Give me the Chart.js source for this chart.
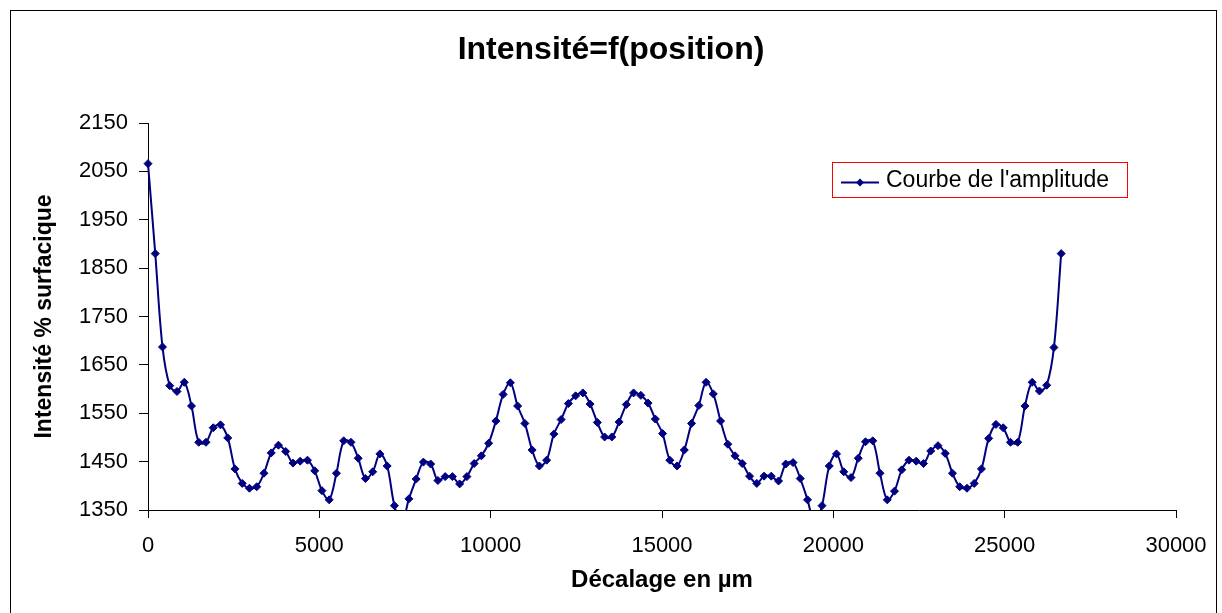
<!DOCTYPE html>
<html lang="fr">
<head>
<meta charset="utf-8">
<title>Intensité=f(position)</title>
<script src="https://cdn.jsdelivr.net/npm/chart.js@4.4.1/dist/chart.umd.min.js"></script>
<style>
    html, body { margin: 0; padding: 0; background: #fff; }
    #wrap { width: 1222px; height: 613px; position: relative; }
</style>
</head>
<body>
<div id="wrap"><canvas id="chart" width="1222" height="613"></canvas></div>
<script>
/* Décalage (µm) of each measurement */
const positions = [
    0, 212, 423, 635, 846, 1058, 1269, 1481, 1692, 1904,
    2115, 2327, 2538, 2750, 2961, 3173, 3384, 3596, 3807, 4019,
    4230, 4442, 4653, 4865, 5076, 5288, 5499, 5711, 5922, 6134,
    6345, 6557, 6768, 6980, 7191, 7403, 7614, 7826, 8037, 8249,
    8460, 8672, 8883, 9095, 9306, 9518, 9729, 9941, 10152, 10364,
    10575, 10787, 10998, 11210, 11421, 11633, 11844, 12056, 12267, 12479,
    12690, 12902, 13113, 13325, 13536, 13748, 13959, 14171, 14382, 14594,
    14805, 15017, 15228, 15440, 15651, 15863, 16074, 16286, 16497, 16709,
    16920, 17132, 17343, 17555, 17766, 17978, 18189, 18401, 18612, 18824,
    19035, 19247, 19458, 19670, 19881, 20093, 20304, 20516, 20727, 20939,
    21150, 21362, 21573, 21785, 21996, 22208, 22419, 22631, 22842, 23054,
    23265, 23477, 23688, 23900, 24111, 24323, 24534, 24746, 24957, 25169,
    25380, 25592, 25803, 26015, 26226, 26438, 26649
];

/* Intensité % surfacique */
const intensities = [
    2066, 1880, 1687, 1607, 1595, 1614, 1565, 1490, 1490, 1520,
    1526, 1499, 1435, 1405, 1395, 1398, 1426, 1468, 1484, 1471,
    1447, 1451, 1453, 1431, 1390, 1371, 1426, 1493, 1490, 1457,
    1415, 1429, 1466, 1441, 1359, 1322, 1373, 1414, 1449, 1445,
    1411, 1419, 1419, 1404, 1419, 1446, 1462, 1488, 1534, 1589,
    1613, 1565, 1529, 1474, 1441, 1453, 1507, 1537, 1570, 1586,
    1592, 1569, 1531, 1501, 1501, 1532, 1568, 1592, 1587, 1571,
    1538, 1508, 1453, 1441, 1474, 1529, 1566, 1614, 1590, 1534,
    1486, 1462, 1446, 1420, 1405, 1420, 1420, 1410, 1445, 1448,
    1415, 1371, 1320, 1359, 1441, 1466, 1429, 1417, 1457, 1491,
    1493, 1426, 1371, 1389, 1433, 1453, 1451, 1446, 1472, 1483,
    1467, 1426, 1398, 1395, 1405, 1435, 1498, 1527, 1520, 1490,
    1490, 1565, 1614, 1596, 1608, 1686, 1880
];

const xTicks = [0, 5000, 10000, 15000, 20000, 25000, 30000];
const yTicks = [1350, 1450, 1550, 1650, 1750, 1850, 1950, 2050, 2150];

const CHART_TITLE = 'Intensité=f(position)';
const SERIES_LABEL = "Courbe de l'amplitude";
const NAVY = '#000080';
const FONT = '"Liberation Sans", Arial, sans-serif';

/* ── Frame, title and legend box drawn around the plot ─────────────── */

const frameAndLegend = {
    id: 'frameAndLegend',
    afterDraw(chart) {
        const ctx = chart.ctx;
        ctx.save();

        // outer chart border
        ctx.strokeStyle = '#000';
        ctx.lineWidth = 1;
        ctx.strokeRect(10.5, 10.5, 1206, 700);

        // title, centred on the whole chart
        ctx.fillStyle = '#000';
        ctx.font = 'bold 32px ' + FONT;
        ctx.textAlign = 'center';
        ctx.textBaseline = 'middle';
        ctx.fillText(CHART_TITLE, 611, 50);

        // legend box
        ctx.fillStyle = '#fff';
        ctx.fillRect(832, 162, 295, 35);
        ctx.strokeStyle = '#ff0000';
        ctx.strokeRect(832.5, 162.5, 295, 35);

        ctx.strokeStyle = NAVY;
        ctx.lineWidth = 2;
        ctx.beginPath();
        ctx.moveTo(841, 182.5);
        ctx.lineTo(879, 182.5);
        ctx.stroke();

        ctx.fillStyle = NAVY;
        ctx.beginPath();
        ctx.moveTo(860, 178.5);
        ctx.lineTo(864, 182.5);
        ctx.lineTo(860, 186.5);
        ctx.lineTo(856, 182.5);
        ctx.closePath();
        ctx.fill();

        ctx.fillStyle = '#000';
        ctx.font = '23px ' + FONT;
        ctx.textAlign = 'left';
        ctx.fillText(SERIES_LABEL, 886, 181);

        ctx.restore();
    },
};

/* ── Chart ──────────────────────────────────────────────────────────── */

const points = positions.map(function (p, i) { return { x: p, y: intensities[i] }; });

new Chart(document.getElementById('chart'), {
    type: 'line',
    data: {
        datasets: [{
            label: SERIES_LABEL,
            data: points,
            borderColor: NAVY,
            backgroundColor: NAVY,
            borderWidth: 2,
            tension: 0.35,
            pointStyle: 'rectRot',
            pointRadius: 4,
            pointBorderWidth: 1,
            pointBackgroundColor: NAVY,
            pointBorderColor: NAVY,
            clip: { left: 8, top: 8, right: 8, bottom: 0 },
        }],
    },
    options: {
        responsive: false,
        animation: false,
        events: [],
        layout: { padding: { left: 0, right: 46, top: 123, bottom: 0 } },
        plugins: {
            legend: { display: false },
            tooltip: { enabled: false },
            title: { display: false },
        },
        scales: {
            x: {
                type: 'linear',
                min: 0,
                max: 30000,
                afterFit: function (s) { s.height = 103; },
                afterBuildTicks: function (s) { s.ticks = xTicks.map(function (v) { return { value: v }; }); },
                border: { display: true, color: '#000', width: 1 },
                grid: { display: true, drawOnChartArea: false, drawTicks: true, tickLength: 8, color: '#000' },
                ticks: {
                    color: '#000',
                    padding: 15,
                    maxRotation: 0,
                    font: { family: FONT, size: 22 },
                    callback: function (v) { return String(v); },
                },
                title: {
                    display: true,
                    text: 'Décalage en µm',
                    color: '#000',
                    font: { family: FONT, size: 24, weight: 'bold', lineHeight: 1.2 },
                    padding: { top: 0, bottom: 18.6 },
                },
            },
            y: {
                type: 'linear',
                min: 1350,
                max: 2150,
                afterFit: function (s) { s.width = 148; },
                afterBuildTicks: function (s) { s.ticks = yTicks.map(function (v) { return { value: v }; }); },
                border: { display: true, color: '#000', width: 1 },
                grid: { display: true, drawOnChartArea: false, drawTicks: true, tickLength: 9, color: '#000' },
                ticks: {
                    color: '#000',
                    padding: 11,
                    font: { family: FONT, size: 22 },
                    callback: function (v) { return String(v); },
                },
                title: {
                    display: true,
                    text: 'Intensité % surfacique',
                    color: '#000',
                    font: { family: FONT, size: 23, weight: 'bold', lineHeight: 1.2 },
                    padding: { top: 31, bottom: 0 },
                },
            },
        },
    },
    plugins: [frameAndLegend],
});
</script>
</body>
</html>
